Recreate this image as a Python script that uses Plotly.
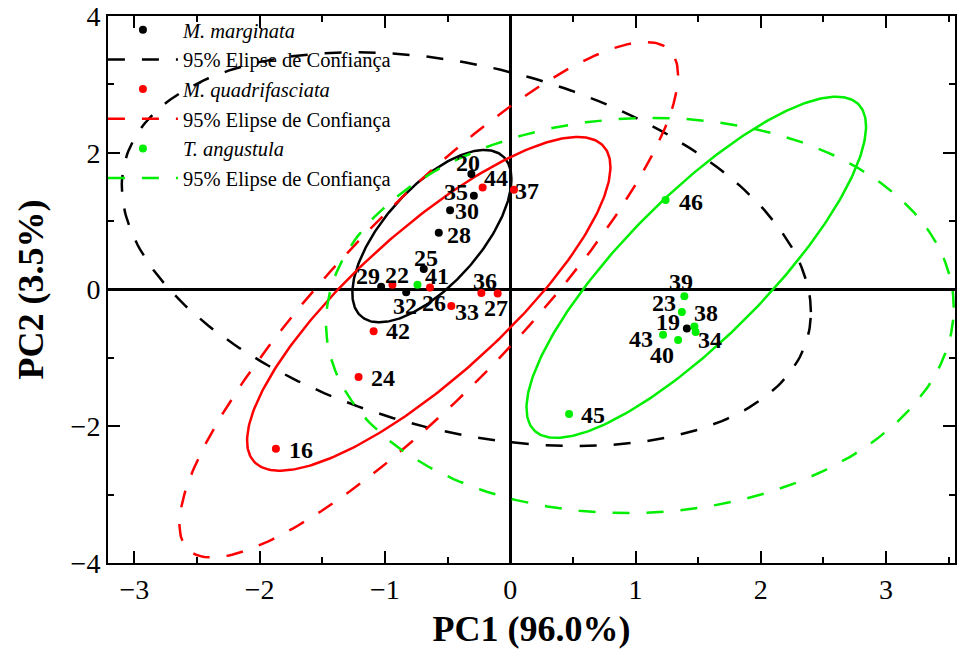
import numpy as np
import plotly.graph_objects as go

# ---------------- data ----------------
# M. marginata
mm_labels = ["20", "35", "30", "28", "25", "29", "32", "19"]
mm_x = [-0.31, -0.29, -0.48, -0.57, -0.69, -1.03, -0.83, 1.41]
mm_y = [1.69, 1.37, 1.16, 0.83, 0.30, 0.04, -0.04, -0.57]

# M. quadrifasciata
mq_labels = ["44", "37", "22", "41", "36", "27", "33", "42", "24", "16"]
mq_x = [-0.22, 0.03, -0.94, -0.64, -0.23, -0.10, -0.47, -1.09, -1.21, -1.87]
mq_y = [1.49, 1.46, 0.07, 0.03, -0.05, -0.06, -0.24, -0.61, -1.28, -2.33]

# T. angustula
ta_labels = ["26", "46", "39", "23", "38", "34", "43", "40", "45"]
ta_x = [-0.74, 1.24, 1.39, 1.37, 1.47, 1.48, 1.22, 1.34, 0.47]
ta_y = [0.07, 1.31, -0.10, -0.33, -0.54, -0.62, -0.66, -0.74, -1.82]

# ellipses: centre x, centre y, half-width x, half-height y, correlation
ell_mm_solid = [-0.625, 0.78, 0.635, 1.26, 0.66]
ell_mm_dash = [-0.35, 0.59, 2.75, 2.88, -0.32]
ell_mq_solid = [-0.65, -0.21, 1.45, 2.44, 0.82]
ell_mq_dash = [-0.65, -0.15, 1.99, 3.77, 0.87]
ell_ta_solid = [1.485, 0.325, 1.355, 2.495, 0.825]
ell_ta_dash = [1.035, -0.38, 2.505, 2.89, 0.04]

# ---------------- styling ----------------
BLACK = "#000000"
RED = "#ff0000"
GREEN = "#00ee00"
SERIF = "Liberation Serif, Times New Roman, serif"
DASH = "17px,17px"

# label offsets from their point, in screen pixels (dx right, dy down)
label_offset = {
    "20": (-3, -11), "44": (13, -10), "35": (-18, -4), "37": (13, 1), "30": (17, 1),
    "28": (20, 2), "25": (2, -11), "29": (-13, -11), "22": (5, -10), "41": (7, -11),
    "36": (4, -12), "32": (-1, 14), "26": (17, 18), "33": (16, 6), "27": (-2, 14),
    "42": (24, 0), "24": (24, 1), "16": (25, 1), "46": (25, 2), "39": (-3, -14),
    "23": (-18, -9), "19": (-19, -6), "38": (12, -13), "34": (14, 8), "43": (-22, 4),
    "40": (-16, 15), "45": (24, 1),
}


def ellipse(p, n=300):
    cx, cy, hx, hy, r = p
    t = np.linspace(0, 2 * np.pi, n)
    x = cx + hx * np.cos(t)
    y = cy + hy * (r * np.cos(t) + np.sqrt(1 - r * r) * np.sin(t))
    return x, y


fig = go.Figure()

groups = [
    ("<i>M. marginata</i>", mm_x, mm_y, mm_labels, BLACK, ell_mm_solid, ell_mm_dash),
    ("<i>M. quadrifasciata</i>", mq_x, mq_y, mq_labels, RED, ell_mq_solid, ell_mq_dash),
    ("<i>T. angustula</i>", ta_x, ta_y, ta_labels, GREEN, ell_ta_solid, ell_ta_dash),
]

for i, (name, xs, ys, labs, col, es, ed) in enumerate(groups):
    ex, ey = ellipse(es)
    fig.add_trace(go.Scatter(x=ex, y=ey, mode="lines", line=dict(color=col, width=2.5),
                             showlegend=False, hoverinfo="skip"))
    ex, ey = ellipse(ed)
    fig.add_trace(go.Scatter(x=ex, y=ey, mode="lines",
                             line=dict(color=col, width=2.5, dash=DASH),
                             name="95% Elipse de Confiança", legendrank=2 * i + 2,
                             legendgroup="e%d" % i, hoverinfo="skip"))

annotations = []
for i, (name, xs, ys, labs, col, es, ed) in enumerate(groups):
    fig.add_trace(go.Scatter(x=xs, y=ys, mode="markers", name=name,
                             marker=dict(color=col, size=8), legendrank=2 * i + 1,
                             legendgroup="m%d" % i))
    for x, y, lab in zip(xs, ys, labs):
        dx, dy = label_offset[lab]
        annotations.append(dict(x=x, y=y, xref="x", yref="y", text="<b>%s</b>" % lab,
                                showarrow=False, xanchor="center", yanchor="middle",
                                xshift=dx, yshift=-dy,
                                font=dict(family=SERIF, size=24, color="black")))

# y-axis title placed as a rotated annotation
annotations.append(dict(x=-0.092, y=0.5, xref="paper", yref="paper",
                        text="<b>PC2 (3.5%)</b>", textangle=-90, showarrow=False,
                        xanchor="center", yanchor="middle",
                        font=dict(family=SERIF, size=36, color="black")))

axis_common = dict(
    showline=True, linecolor="black", linewidth=2, mirror="ticks",
    ticks="inside", ticklen=12, tickwidth=2, tickcolor="black",
    showgrid=False, zeroline=True, zerolinecolor="black", zerolinewidth=2.5,
    tickfont=dict(family=SERIF, size=28, color="black"),
)

fig.update_xaxes(range=[-3.21, 3.55], dtick=1, tick0=0,
                 minor=dict(dtick=0.5, ticks="inside", ticklen=6, tickwidth=2, tickcolor="black"),
                 title=dict(text="<b>PC1 (96.0%)</b>", font=dict(family=SERIF, size=36, color="black"),
                            standoff=12),
                 **axis_common)
fig.update_yaxes(range=[-4, 4], dtick=2, tick0=0,
                 minor=dict(dtick=1, ticks="inside", ticklen=6, tickwidth=2, tickcolor="black"),
                 **axis_common)

fig.update_layout(
    width=958, height=655,
    margin=dict(l=108, r=1, t=16, b=92),
    paper_bgcolor="white", plot_bgcolor="white",
    showlegend=True,
    annotations=annotations,
    legend=dict(x=-0.006, y=1.011, xanchor="left", yanchor="top", bgcolor="rgba(0,0,0,0)",
                borderwidth=0, font=dict(family=SERIF, size=20.5, color="black"),
                itemwidth=70, traceorder="grouped", tracegroupgap=0),
)

fig.write_html("out.html")
